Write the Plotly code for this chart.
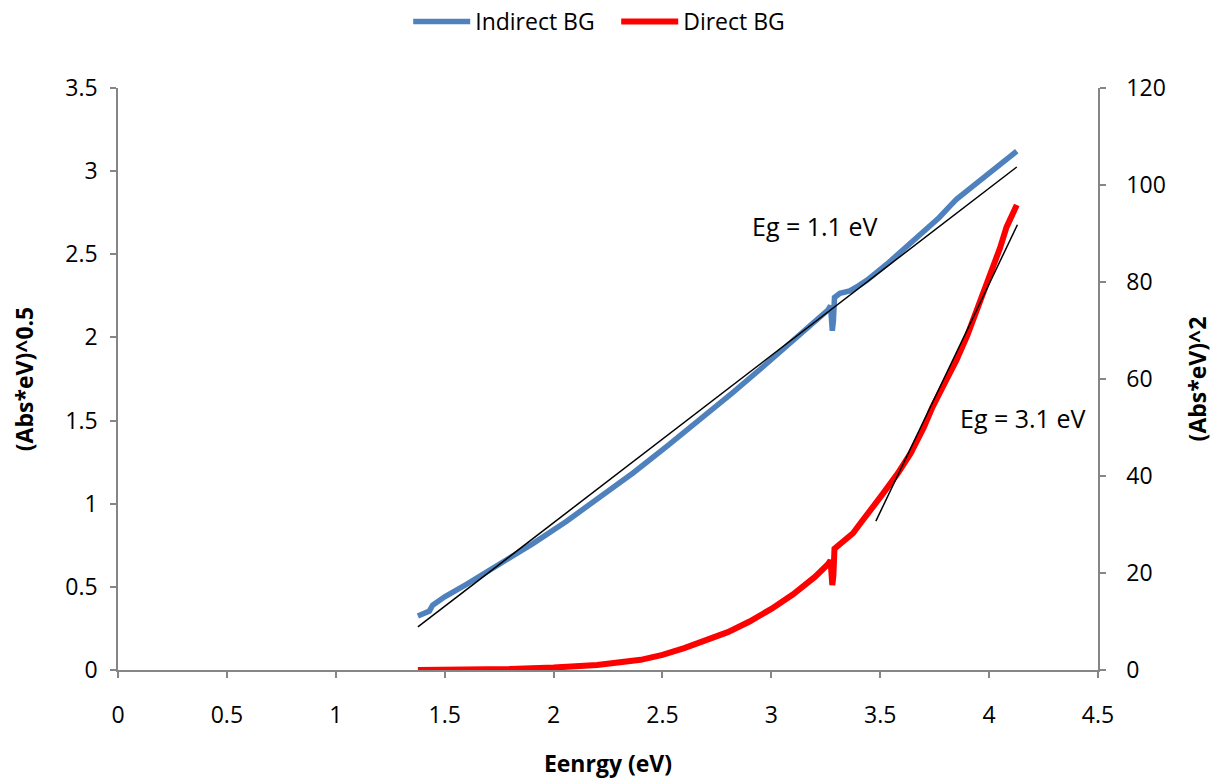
import plotly.graph_objects as go

# Indirect band gap: (Abs*eV)^0.5 vs energy (left axis)
indirect_x = [1.377, 1.43, 1.445, 1.46, 1.50, 1.60, 1.75, 1.905, 2.06, 2.21, 2.365, 2.52, 2.67,
              2.82, 2.95, 3.05, 3.16, 3.26, 3.272, 3.28, 3.285, 3.29, 3.315, 3.36, 3.40, 3.44,
              3.53, 3.60, 3.65, 3.70, 3.77, 3.82, 3.85, 3.93, 4.00, 4.08, 4.127]
indirect_y = [0.325, 0.355, 0.39, 0.405, 0.44, 0.515, 0.635, 0.76, 0.895, 1.035, 1.185, 1.345, 1.50,
              1.665, 1.81, 1.925, 2.05, 2.165, 2.19, 2.04, 2.10, 2.24, 2.265, 2.28, 2.31, 2.345,
              2.44, 2.52, 2.575, 2.64, 2.72, 2.79, 2.83, 2.915, 2.99, 3.075, 3.12]

# Direct band gap: (Abs*eV)^2 vs energy (right axis)
direct_x = [1.377, 1.6, 1.8, 2.0, 2.2, 2.4, 2.5, 2.6, 2.7, 2.8, 2.9, 3.0, 3.1, 3.2, 3.26,
            3.272, 3.28, 3.285, 3.29, 3.33, 3.375, 3.41, 3.45, 3.51, 3.58, 3.64, 3.70, 3.74,
            3.80, 3.85, 3.90, 3.94, 4.00, 4.05, 4.08, 4.127]
direct_y = [0.02, 0.07, 0.2, 0.5, 1.05, 2.1, 3.1, 4.5, 6.0, 7.8, 10.0, 12.6, 15.6, 19.2, 21.8,
            22.6, 17.5, 19.5, 25.0, 26.4, 28.2, 30.3, 32.5, 36.2, 40.5, 44.7, 50.0, 54.2,
            59.5, 63.9, 69.0, 73.6, 80.4, 87.0, 91.3, 95.9]

# Linear fit lines (end points)
fit_indirect_x = [1.377, 4.127]
fit_indirect_y = [0.259, 3.025]
fit_direct_x = [3.48, 4.13]
fit_direct_y = [30.7, 91.8]

x_ticks = [0, 0.5, 1, 1.5, 2, 2.5, 3, 3.5, 4, 4.5]
x_tick_labels = ["0", "0.5", "1", "1.5", "2", "2.5", "3", "3.5", "4", "4.5"]
y_ticks = [0, 0.5, 1, 1.5, 2, 2.5, 3, 3.5]
y_tick_labels = ["0", "0.5", "1", "1.5", "2", "2.5", "3", "3.5"]
y2_ticks = [0, 20, 40, 60, 80, 100, 120]
y2_tick_labels = ["0", "20", "40", "60", "80", "100", "120"]

FONT = "Open Sans"
AX = "#868686"

fig = go.Figure()
fig.add_trace(go.Scatter(x=indirect_x, y=indirect_y, mode="lines", name="Indirect BG",
                         line=dict(color="#4F81BD", width=5.5), yaxis="y"))
fig.add_trace(go.Scatter(x=direct_x, y=direct_y, mode="lines", name="Direct BG",
                         line=dict(color="#FF0000", width=6), yaxis="y2"))
fig.add_trace(go.Scatter(x=fit_indirect_x, y=fit_indirect_y, mode="lines", showlegend=False,
                         line=dict(color="black", width=1.5), yaxis="y"))
fig.add_trace(go.Scatter(x=fit_direct_x, y=fit_direct_y, mode="lines", showlegend=False,
                         line=dict(color="black", width=1.5), yaxis="y2"))

fig.add_annotation(x=2.90, y=2.67, xref="x", yref="y", text="Eg = 1.1 eV", showarrow=False,
                   font=dict(family=FONT, size=25, color="black"), xanchor="left", yanchor="middle")
fig.add_annotation(x=4.155, y=52, xref="x", yref="y2", text="Eg = 3.1 eV", showarrow=False,
                   font=dict(family=FONT, size=25, color="black"), xanchor="center", yanchor="middle")

tickfont = dict(family=FONT, size=23, color="black")
fig.update_layout(
    width=1213, height=782,
    margin=dict(l=118, r=115, t=88, b=112),
    paper_bgcolor="white", plot_bgcolor="white",
    font=dict(family=FONT, size=23, color="black"),
    showlegend=True,
    legend=dict(orientation="h", x=0.508, xref="container", xanchor="center",
                y=1, yref="container", yanchor="top",
                font=dict(family=FONT, size=23, color="black"),
                itemwidth=57, entrywidth=136,
                bgcolor="rgba(0,0,0,0)"),
    xaxis=dict(range=[0, 4.5], tickvals=x_ticks, ticktext=x_tick_labels, showgrid=False,
               zeroline=False, showline=True, linecolor=AX, linewidth=1.5, automargin=False,
               ticks="outside", ticklen=6, tickcolor=AX, tickwidth=1.5, tickfont=tickfont,
               ticklabelstandoff=18,
               title=dict(text="<b>Eenrgy (eV)</b>", font=dict(family=FONT, size=23), standoff=27)),
    yaxis=dict(range=[0, 3.5], tickvals=y_ticks, ticktext=y_tick_labels, showgrid=False,
               zeroline=False, showline=True, linecolor=AX, linewidth=1.5, automargin=False,
               ticks="outside", ticklen=6, tickcolor=AX, tickwidth=1.5, tickfont=tickfont,
               ticklabelstandoff=8,
               title=dict(text="<b>(Abs*eV)^0.5</b>", font=dict(family=FONT, size=23), standoff=25)),
    yaxis2=dict(range=[0, 120], tickvals=y2_ticks, ticktext=y2_tick_labels, overlaying="y",
                side="right", showgrid=False, zeroline=False, showline=True, linecolor=AX,
                linewidth=1.5, ticks="outside", ticklen=6, tickcolor=AX, tickwidth=1.5,
                automargin=False, tickfont=tickfont, ticklabelstandoff=16,
                title=dict(text="<b>(Abs*eV)^2</b>", font=dict(family=FONT, size=23), standoff=26)),
)

fig.write_html("out.html")
